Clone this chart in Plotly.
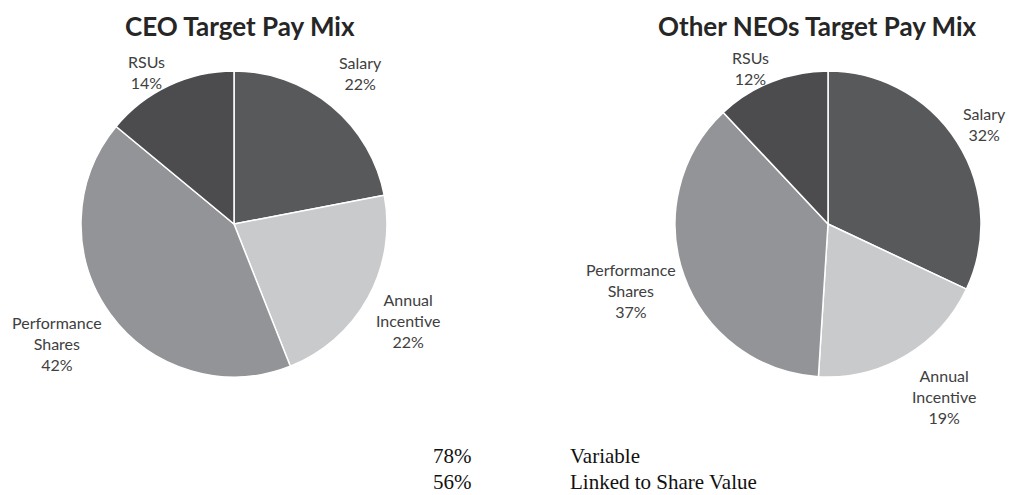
import plotly.graph_objects as go

# ---- data ----
categories = ["Salary", "Annual Incentive", "Performance Shares", "RSUs"]
ceo_values = [22, 22, 42, 14]
neo_values = [32, 19, 37, 12]
chart_titles = ["CEO Target Pay Mix", "Other NEOs Target Pay Mix"]
summary_pcts = ["78%", "56%"]
summary_labels = ["Variable", "Linked to Share Value"]

label_lines = {
    "Salary": "Salary",
    "Annual Incentive": "Annual<br>Incentive",
    "Performance Shares": "Performance<br>Shares",
    "RSUs": "RSUs",
}

colors = ["#58595b", "#c9cacc", "#939497", "#4c4c4e"]

W, H = 1009, 495


def px(x):
    return x / W


def py(y):
    return 1 - y / H


fig = go.Figure()

pie_geo = [(234, 224, 153), (828, 224, 153)]
for vals, (cx, cy, r) in zip([ceo_values, neo_values], pie_geo):
    fig.add_trace(go.Pie(
        labels=categories,
        values=vals,
        sort=False,
        direction="clockwise",
        rotation=0,
        marker=dict(colors=colors, line=dict(color="white", width=1.5)),
        textinfo="none",
        hoverinfo="label+percent",
        showlegend=False,
        domain=dict(x=[px(cx - r), px(cx + r)], y=[py(cy + r), py(cy - r)]),
    ))

label_font = dict(family="Lato, 'Open Sans', sans-serif", size=16, color="#404040")

# label centre positions (pixels) for each pie
label_pos = [
    {"Salary": (360, 73), "Annual Incentive": (408, 320),
     "Performance Shares": (57, 343), "RSUs": (146, 72)},
    {"Salary": (984, 124), "Annual Incentive": (944, 396),
     "Performance Shares": (631, 290), "RSUs": (750, 68)},
]

annotations = []
for vals, pos in zip([ceo_values, neo_values], label_pos):
    for cat, v in zip(categories, vals):
        x, y = pos[cat]
        annotations.append(dict(
            x=px(x), y=py(y), xref="paper", yref="paper",
            text=f"{label_lines[cat]}<br>{v}%", showarrow=False,
            font=label_font, xanchor="center", yanchor="middle", align="center",
        ))

title_pos = [(240, 26), (817, 26)]
for t, (x, y) in zip(chart_titles, title_pos):
    annotations.append(dict(
        x=px(x), y=py(y), xref="paper", yref="paper", text=f"<b>{t}</b>",
        showarrow=False, xanchor="center", yanchor="middle",
        font=dict(family="Lato, 'Open Sans', sans-serif", size=26, color="#262626"),
    ))

serif = dict(family="'Liberation Serif', 'Times New Roman', serif", size=21, color="#111111")
for i, (p, lab) in enumerate(zip(summary_pcts, summary_labels)):
    y = 456 + i * 26
    annotations.append(dict(x=px(431), y=py(y), xref="paper", yref="paper", text=p,
                            showarrow=False, xanchor="left", yanchor="middle", font=serif))
    annotations.append(dict(x=px(568), y=py(y), xref="paper", yref="paper", text=lab,
                            showarrow=False, xanchor="left", yanchor="middle", font=serif))

fig.update_layout(
    width=W, height=H,
    margin=dict(l=0, r=0, t=0, b=0),
    paper_bgcolor="white", plot_bgcolor="white",
    annotations=annotations,
)

fig.write_html(
    "out.html",
    config={"displayModeBar": False},
    post_script="document.body.style.margin='0';document.body.style.overflow='hidden';",
)
